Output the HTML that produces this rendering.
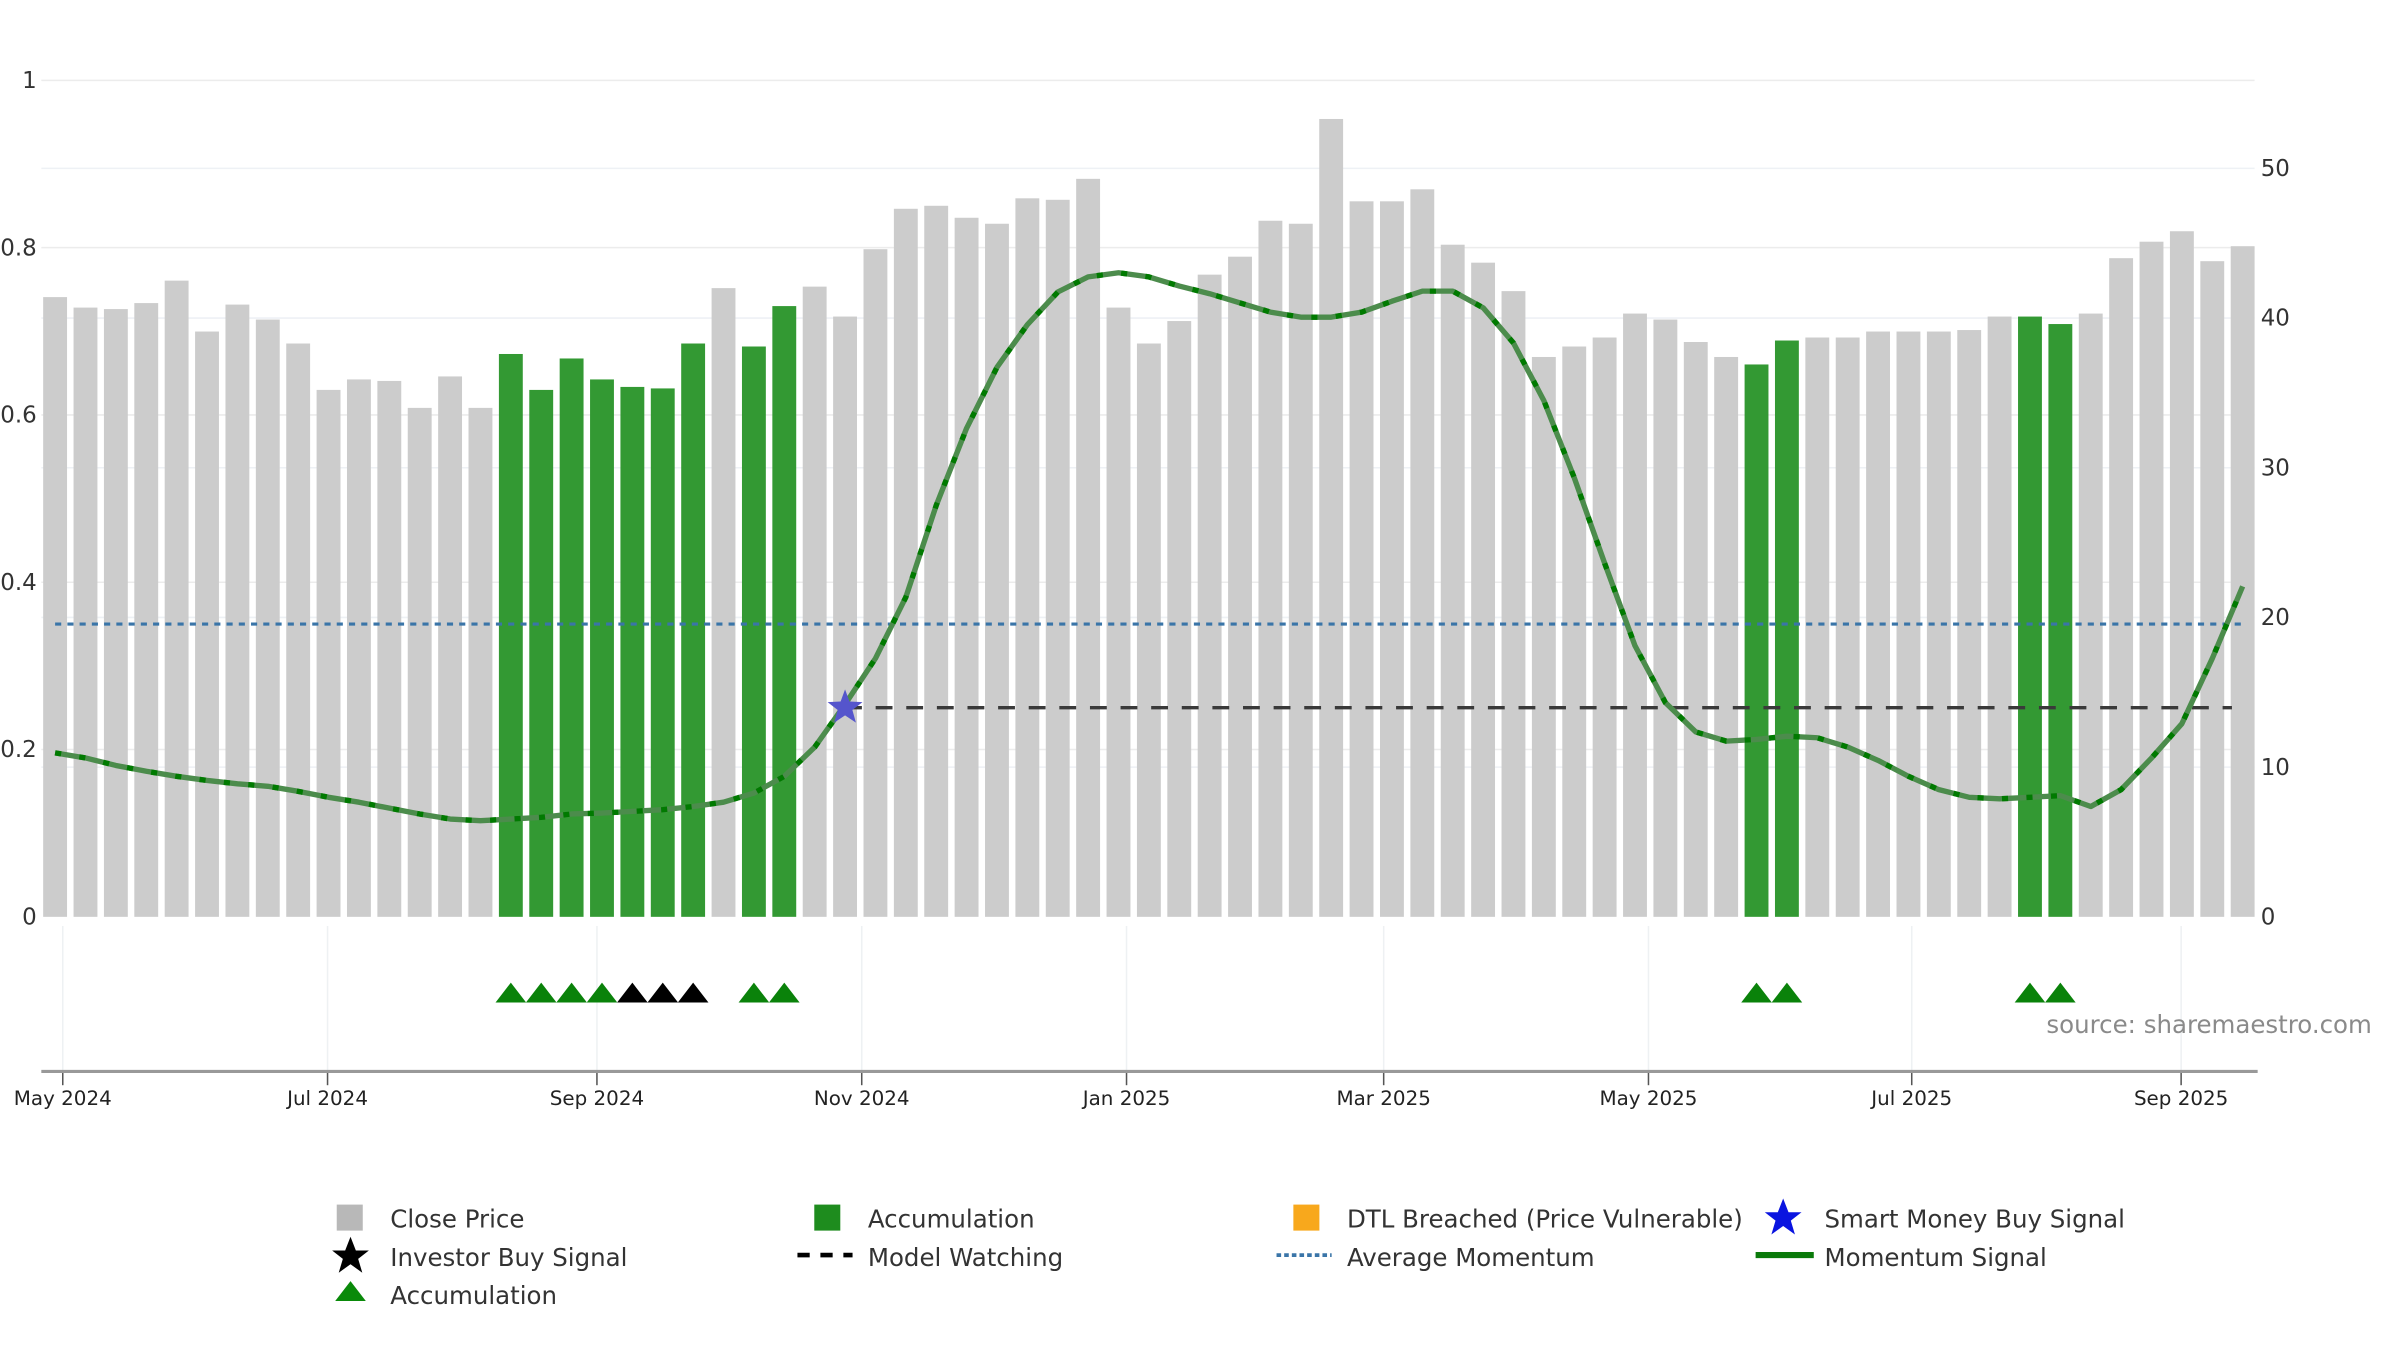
<!DOCTYPE html>
<html><head><meta charset="utf-8"><style>
html,body{margin:0;padding:0;background:#fff;}
svg{display:block;font-family:"DejaVu Sans","Liberation Sans",sans-serif;}
</style></head><body>
<svg id="chart" width="2400" height="1350" viewBox="0 0 1568 882" xmlns="http://www.w3.org/2000/svg">
<g id="grid"></g>
<g id="bars"></g>
<g id="lines"></g>
<g id="axes"></g>
<g id="markers"></g>
<text x="1337" y="675" font-size="16" fill="#8a8a8a">source: sharemaestro.com</text>
<g id="legend" font-size="16" fill="#333">
  <g><rect x="220" y="787" width="17" height="17" fill="#b8b8b8"/><text x="255" y="802">Close Price</text></g>
  <g><rect x="532" y="787" width="17" height="17" fill="#1e8c1e"/><text x="567" y="802">Accumulation</text></g>
  <g><rect x="845" y="787" width="17" height="17" fill="#f8a81c"/><text x="880" y="802">DTL Breached (Price Vulnerable)</text></g>
  <g><polygon points="1165,783 1168.5,792 1177,792 1170,797.5 1172.7,806.5 1165,801 1157.3,806.5 1160,797.5 1153,792 1161.5,792" fill="#0a14e0"/><text x="1192" y="802">Smart Money Buy Signal</text></g>
  <g><polygon points="229,808 232.5,817 241,817 234,822.5 236.7,831.5 229,826 221.3,831.5 224,822.5 217,817 225.5,817" fill="#000"/><text x="255" y="827">Investor Buy Signal</text></g>
  <g><line x1="521" y1="820" x2="557" y2="820" stroke="#000" stroke-width="3" stroke-dasharray="8,7"/><text x="567" y="827">Model Watching</text></g>
  <g><line x1="834" y1="820" x2="870" y2="820" stroke="#3a75a8" stroke-width="2.5" stroke-dasharray="3,2"/><text x="880" y="827">Average Momentum</text></g>
  <g><line x1="1147" y1="820" x2="1185" y2="820" stroke="#0a7a0a" stroke-width="4"/><text x="1192" y="827">Momentum Signal</text></g>
  <g><polygon points="229,837 239,850 219,850" fill="#0a8a0a"/><text x="255" y="852">Accumulation</text></g>
</g>
</svg>
<script>
const prices = [41.4,40.7,40.6,41.0,42.5,39.1,40.9,39.9,38.3,35.2,35.9,35.8,34.0,36.1,34.0,37.6,35.2,37.3,35.9,35.4,35.3,38.3,42.0,38.1,40.8,42.1,40.1,44.6,47.3,47.5,46.7,46.3,48.0,47.9,49.3,40.7,38.3,39.8,42.9,44.1,46.5,46.3,53.3,47.8,47.8,48.6,44.9,43.7,41.8,37.4,38.1,38.7,40.3,39.9,38.4,37.4,36.9,38.5,38.7,38.7,39.1,39.1,39.1,39.2,40.1,40.1,39.6,40.3,44.0,45.1,45.8,43.8,44.8];
const accumulationBars = [15,16,17,18,19,20,21,23,24,56,57,65,66];
const momentum = [.196,.190,.181,.174,.168,.163,.159,.156,.150,.143,.137,.130,.123,.117,.115,.117,.119,.123,.124,.126,.128,.132,.137,.148,.168,.203,.254,.309,.382,.492,.584,.657,.708,.747,.765,.770,.765,.754,.745,.734,.723,.717,.717,.723,.736,.748,.748,.728,.686,.617,.525,.423,.324,.256,.221,.210,.212,.216,.214,.203,.187,.168,.152,.143,.141,.143,.145,.132,.152,.190,.231,.309,.395];
const avgMomentum = 0.35;
const modelWatchLevel = 0.25;
const modelWatchStart = 26;
const smartMoneyIdx = [26];
const greenTriangles = [15,16,17,18,23,24,56,57,65,66];
const blackTriangles = [19,20,21];
const leftTicks = [0,0.2,0.4,0.6,0.8,1];
const leftTickLabels = ["0","0.2","0.4","0.6","0.8","1"];
const rightTicks = [0,10,20,30,40,50];
const dateTickX = [41,214,390,563,736,904,1077,1249,1425];
const dateTickLabels = ["May 2024","Jul 2024","Sep 2024","Nov 2024","Jan 2025","Mar 2025","May 2025","Jul 2025","Sep 2025"];

const NS="http://www.w3.org/2000/svg";
const xI = i => 36 + i*19.85;
const yL = v => 599 - v*546.5;
const yR = v => 599 - v*9.78;
function mk(tag, attrs, parent){const e=document.createElementNS(NS,tag);for(const k in attrs)e.setAttribute(k,attrs[k]);parent.appendChild(e);return e;}
const G=id=>document.getElementById(id);

leftTicks.forEach((t,k)=>{ if(k===0)return;
  const l=mk('line',{x1:27,x2:1473,y1:yL(t),y2:yL(t),stroke:'#ececec','stroke-width':1},G('grid'));
  
  
  const tx=mk('text',{x:24,y:yL(t)+5,'text-anchor':'end','font-size':15,fill:'#333'},G('axes'));
  tx.textContent=leftTickLabels[k];
  
  
});
{const tx=mk('text',{x:24,y:604,'text-anchor':'end','font-size':15,fill:'#333'},G('axes'));tx.textContent=leftTickLabels[0];

}
rightTicks.forEach(t=>{
  if(t>0){const l=mk('line',{x1:27,x2:1473,y1:yR(t),y2:yR(t),stroke:'#eef1f5','stroke-width':1},G('grid'));
  
  }
  const tx=mk('text',{x:1477,y:yR(t)+5,'font-size':15,fill:'#333'},G('axes'));
  tx.textContent=String(t);
  
  
});

prices.forEach((p,i)=>{
  const acc=accumulationBars.includes(i);
  const r=mk('rect',{x:xI(i)-7.8,y:yR(p),width:15.6,height:599-yR(p),fill:acc?'#339933':'#cccccc'},G('bars'));
  
  
});

{const l=mk('line',{x1:xI(0),x2:xI(prices.length-1),y1:yL(avgMomentum),y2:yL(avgMomentum),stroke:'#3a75a8','stroke-width':2,'stroke-dasharray':'4,4'},G('lines'));

}
{const l=mk('line',{x1:xI(modelWatchStart),x2:xI(prices.length-1)-7,y1:yL(modelWatchLevel),y2:yL(modelWatchLevel),stroke:'#3a3a3a','stroke-width':2.2,'stroke-dasharray':'11,9'},G('lines'));

}
const pts=momentum.map((v,i)=>xI(i).toFixed(1)+','+yL(v).toFixed(1)).join(' ');
{const l=mk('polyline',{points:pts,fill:'none',stroke:'#4c8c4c','stroke-width':3.5,'stroke-linejoin':'round'},G('lines'));


const d=mk('polyline',{points:pts,fill:'none',stroke:'#007a00','stroke-width':3.5,'stroke-dasharray':'4,12'},G('lines'));

}
smartMoneyIdx.forEach(i=>{
  const cx=xI(i), cy=yL(modelWatchLevel);
  let s='';for(let k=0;k<10;k++){const r=k%2?5:12;const a=-Math.PI/2+k*Math.PI/5;s+=(cx+r*Math.cos(a)).toFixed(1)+','+(cy+r*Math.sin(a)).toFixed(1)+' ';}
  const p=mk('polygon',{points:s,fill:'#5555cc'},G('markers'));
  
  
});

dateTickX.forEach((x,k)=>{
  const g=mk('line',{x1:x,x2:x,y1:605,y2:700,stroke:'#eef1f3','stroke-width':1},G('grid'));
  
  
  const t=mk('line',{x1:x,x2:x,y1:700,y2:709,stroke:'#555','stroke-width':1},G('axes'));
  
  
  const tx=mk('text',{x:x,y:722,'text-anchor':'middle','font-size':13,fill:'#222'},G('axes'));
  tx.textContent=dateTickLabels[k];
  
  
});
{const a=mk('line',{x1:27,x2:1475,y1:700,y2:700,stroke:'#999','stroke-width':2},G('axes'));

}
function tri(i,color,name){
  const cx=xI(i);
  const p=mk('polygon',{points:`${cx},642 ${cx+10},655 ${cx-10},655`,fill:color},G('markers'));
  
  
}
greenTriangles.forEach(i=>tri(i,'#0a820a','accumulation-marker'));
blackTriangles.forEach(i=>tri(i,'#000','investor-buy-marker'));
</script>
</body></html>
